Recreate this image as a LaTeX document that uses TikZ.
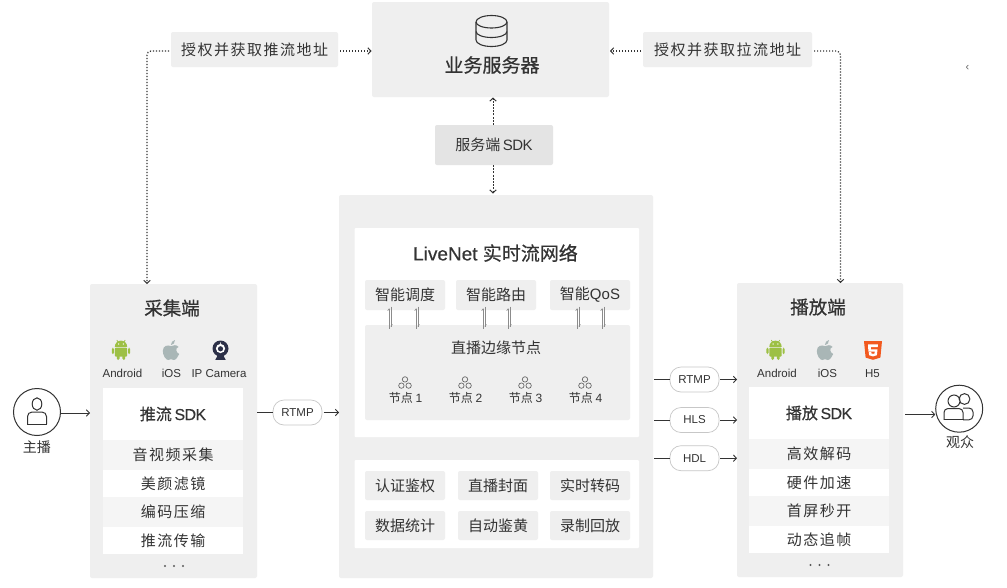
\documentclass[tikz,border=0pt]{standalone}
\usepackage{fontspec}
\usetikzlibrary{arrows.meta,calc}
\setmainfont{Liberation Sans}
\newfontfamily\cjk{Noto Sans CJK SC}
\newfontfamily\cjks[LetterSpace=10]{Noto Sans CJK SC}
\newfontfamily\cjkm[FakeBold=0.5]{Noto Sans CJK SC}
\newfontfamily\latm[FakeBold=0.5]{Liberation Sans}
\newfontfamily\latn[LetterSpace=-4]{Liberation Sans}
\newfontfamily\latb[FakeBold=0.3,LetterSpace=-4]{Liberation Sans}
\newcommand\fsz[1]{\fontsize{#1}{#1}\selectfont}
\definecolor{panel}{HTML}{EFEFEF}
\definecolor{rowg}{HTML}{F5F5F5}
\definecolor{sdkg}{HTML}{E4E4E4}
\definecolor{ink}{HTML}{333333}
\definecolor{droid}{HTML}{9DC044}
\definecolor{applec}{HTML}{A9B6B6}
\definecolor{camc}{HTML}{2C3048}
\definecolor{hfive}{HTML}{F2591F}
\tikzset{
  base/.style={inner sep=0pt,outer sep=0pt,text=ink,align=center},
  tile/.style={base,fill=panel,rounded corners=2pt},
  whitebox/.style={base,fill=white,rounded corners=1pt},
  sq/.style={base,minimum width=140pt},
  pill/.style={base,draw=black!22,line width=.7pt,fill=white,rounded corners=11pt,minimum width=49pt,minimum height=25pt,font=\fsz{11.5}},
  lab/.style={base,font=\fsz{11.5}},
  arr/.style={draw=ink,line width=1pt,-{Straight Barb[length=3pt,width=6.5pt,line width=.9pt]}},
  plain/.style={draw=ink,line width=1pt},
  dotline/.style={draw=ink,line width=1.2pt,dash pattern=on 1.2pt off 1.8pt,rounded corners=4pt,-{Straight Barb[length=3pt,width=6.5pt,line width=1pt]}},
  dashline/.style={draw=ink,line width=1pt,dash pattern=on 2pt off 1.2pt,-{Straight Barb[length=3pt,width=6.5pt,line width=1pt]}},
  harp/.style={draw=black!45,line width=.6pt},
  ico/.style={draw=ink,line width=1pt,fill=none},
}
\newcommand\droidicon[2]{\begin{scope}[shift={(#1,#2)}]
  \fill[droid] (-6.2,-3.2) arc[start angle=180,end angle=360,radius=6.2] -- cycle;
  \draw[droid,line width=.7pt] (-3,-8) -- (-4.2,-10) (3,-8) -- (4.2,-10);
  \fill[white] (-2.4,-6) circle (.7) (2.4,-6) circle (.7);
  \fill[droid,rounded corners=1pt] (-6.2,-2.4) rectangle (6.2,6.6);
  \fill[droid,rounded corners=1.4pt] (-9.2,-2.4) rectangle (-7,4.2) (7,-2.4) rectangle (9.2,4.2) (-4.2,5) rectangle (-1.4,10) (1.4,5) rectangle (4.2,10);
\end{scope}}
\newcommand\appleicon[2]{\begin{scope}[shift={(#1,#2)}]
  \fill[applec] (0,-3.8) .. controls (-3,-5.4) and (-8.2,-4.6) .. (-8.2,1) .. controls (-8.2,5.5) and (-5,10) .. (-2.8,10) .. controls (-1.4,10) and (-1,9.2) .. (0,9.2) .. controls (1,9.2) and (1.4,10) .. (2.8,10) .. controls (5,10) and (7,6.6) .. (8.2,4) .. controls (4.6,2.6) and (4.2,-2.4) .. (7.6,-3) .. controls (5.4,-5.6) and (2.4,-5) .. (0,-3.8) -- cycle;
  \fill[applec] (-.2,-4.8) .. controls (-.4,-7.6) and (2,-9.6) .. (4,-10) .. controls (4.2,-7.4) and (2.4,-5.2) .. (-.2,-4.8) -- cycle;
\end{scope}}
\newcommand\camicon[2]{\begin{scope}[shift={(#1,#2)}]
  \fill[camc] (0,-1.5) circle (8);
  \fill[white] (0,-1.5) circle (4.6);
  \fill[camc] (0,-1.2) circle (2.6);
  \fill[white] (0,-6.9) circle (.7);
  \fill[camc] (-2.6,5) -- (2.6,5) -- (5.2,9.8) -- (-5.2,9.8) -- cycle;
\end{scope}}
\newcommand\hfiveicon[2]{\begin{scope}[shift={(#1,#2)}]
  \fill[hfive] (-9,-9) -- (9,-9) -- (7.4,7.6) -- (0,9.8) -- (-7.4,7.6) -- cycle;
  \fill[white] (-5,-5.6) -- (5,-5.6) -- (4.7,-3) -- (-2.2,-3) -- (-2,-.6) -- (4.5,-.6) -- (3.9,5.2) -- (0,6.4) -- (-3.9,5.2) -- (-4.2,2.2) -- (-1.7,2.2) -- (-1.6,3.4) -- (0,3.9) -- (1.6,3.4) -- (1.8,1.7) -- (-4.6,1.7) -- cycle;
\end{scope}}
\newcommand\meshicon[2]{\begin{scope}[shift={(#1,#2)}]
  \draw[black!60,line width=.7pt] (0,-3.6) circle (2.7) (-3.6,2.6) circle (2.7) (3.6,2.6) circle (2.7);
\end{scope}}
\newcommand\dotsrow[2]{\fill[black!65] (#1-9,#2) circle (1.2) (#1,#2) circle (1.2) (#1+9,#2) circle (1.2);}
\begin{document}
\begin{tikzpicture}[x=1pt,y=-1pt]
\useasboundingbox (0,0) rectangle (1007,587);
\fill[white] (0,0) rectangle (1007,587);
%% top
\node[tile,minimum width=237pt,minimum height=95pt,anchor=north west] (server) at (372,2) {};
\node[base,font=\fsz{19}\cjkm] (servertxt) at (492,65) {业务服务器};
\draw[ico,line width=1.1pt] (476,22) arc[start angle=180,end angle=360,x radius=15.5,y radius=6.5] -- (507,40) arc[start angle=0,end angle=180,x radius=15.5,y radius=6.5] -- cycle;
\draw[ico,line width=1.1pt] (476,22) arc[start angle=180,end angle=0,x radius=15.5,y radius=6];
\draw[ico,line width=1.1pt] (476,31.5) arc[start angle=180,end angle=0,x radius=15.5,y radius=6];
\node[tile,minimum width=167pt,minimum height=35pt,font=\fsz{15}\cjks] (authl) at (254.5,49.5) {授权并获取推流地址};
\node[tile,minimum width=169pt,minimum height=35pt,font=\fsz{15}\cjks] (authr) at (727.5,49.5) {授权并获取拉流地址};
\node[tile,fill=sdkg,minimum width=118pt,minimum height=40pt] (ssdk) at (494,145) {\fsz{15}\cjk 服务端\,\latn SDK};
\node[base,text=black!60,font=\fsz{11}] (stray) at (967.5,67.5) {‹};
%% capture panel
\node[tile,minimum width=167pt,minimum height=294pt,anchor=north west] (cap) at (90,284) {};
\node[base,font=\fsz{18.5}\cjkm] (captitle) at (172,308) {采集端};
\droidicon{121}{350}\appleicon{171}{350}\camicon{220.5}{350}
\node[lab] (l1) at (122.5,373.5) {Android};
\node[lab] (l2) at (171.5,373.5) {iOS};
\node[lab] (l3) at (219,373.5) {IP Camera};
\node[sq,fill=white,minimum height=52pt,anchor=north west] (capsdk) at (103,388) {\fsz{16}\cjkm 推流\,\latb SDK};
\node[sq,fill=rowg,minimum height=30pt,anchor=north west,font=\fsz{15}\cjks] (c1) at (103,440) {音视频采集};
\node[sq,fill=white,minimum height=27pt,anchor=north west,font=\fsz{15}\cjks] (c2) at (103,470) {美颜滤镜};
\node[sq,fill=rowg,minimum height=30pt,anchor=north west,font=\fsz{15}\cjks] (c3) at (103,497) {编码压缩};
\node[sq,fill=white,minimum height=27pt,anchor=north west,font=\fsz{15}\cjks] (c4) at (103,527) {推流传输};
\dotsrow{174}{566}
%% host
\node[base,draw=ink,line width=1pt,circle,minimum size=47pt] (host) at (37,412) {};
\draw[ico] (37,404) ellipse (4.8 and 6.2);
\draw[ico,rounded corners=4.5pt] (27.5,424) -- (27.5,412) -- (46.5,412) -- (46.5,424);
\draw[ico] (27,424) -- (47,424);
\node[base,font=\fsz{14}\cjk] (hostl) at (37,447) {主播};
\node[pill] (prtmp) at (297.5,412.5) {RTMP};
\coordinate (h0) at (0,413);
\draw[arr] (host.east |- h0) -- (cap.west |- h0);
%% center panel
\node[tile,minimum width=314pt,minimum height=383pt,anchor=north west] (net) at (339,195) {};
\node[whitebox,minimum width=284.5pt,minimum height=209pt,anchor=north west] (netup) at (354.5,228) {};
\node[base] (nettitle) at (495.5,253) {\fsz{19}\latm LiveNet {\cjkm 实时流网络}};
\node[tile,minimum width=80pt,minimum height=30pt,font=\fsz{15}\cjk] (s1) at (405,295) {智能调度};
\node[tile,minimum width=80pt,minimum height=30pt,font=\fsz{15}\cjk] (s2) at (496,295) {智能路由};
\node[tile,minimum width=80pt,minimum height=30pt] (s3) at (590,295) {\fsz{15}\cjk 智能\rmfamily QoS};
\node[tile,minimum width=265pt,minimum height=95pt,anchor=north west] (edge) at (365,325) {};
\node[base,font=\fsz{15}\cjk] (edget) at (496,348) {直播边缘节点};
\meshicon{405}{383}\meshicon{465}{383}\meshicon{525}{383}\meshicon{585}{383}
\node[base] (n1) at (405.5,398) {\fsz{12}\cjk 节点 \rmfamily 1};
\node[base] (n2) at (465.5,398) {\fsz{12}\cjk 节点 \rmfamily 2};
\node[base] (n3) at (525.5,398) {\fsz{12}\cjk 节点 \rmfamily 3};
\node[base] (n4) at (585.5,398) {\fsz{12}\cjk 节点 \rmfamily 4};
\coordinate (ha) at (390,318);\coordinate (hb) at (417,318);
\coordinate (hc) at (484,318);\coordinate (hd) at (509,318);
\coordinate (he) at (578,318);\coordinate (hf) at (603,318);
\foreach \c/\t in {ha/s1,hb/s1,hc/s2,hd/s2,he/s3,hf/s3}{
  \draw[harp] ([xshift=-.7pt,yshift=1.5pt]\t.south -| \c) -- ([xshift=-.7pt,yshift=-3.5pt]edge.north -| \c);
  \draw[harp] ([xshift=-.7pt,yshift=1.5pt]\t.south -| \c) -- ++(-1.6,2.2);
  \draw[harp] ([xshift=.8pt,yshift=3.5pt]\t.south -| \c) -- ([xshift=.8pt,yshift=-1.5pt]edge.north -| \c);
  \draw[harp] ([xshift=.8pt,yshift=-1.5pt]edge.north -| \c) -- ++(1.6,-2.2);
}
\node[whitebox,minimum width=284.5pt,minimum height=88pt,anchor=north west] (netlow) at (354.5,460) {};
\node[tile,minimum width=80pt,minimum height=29pt,font=\fsz{15}\cjk] (f1) at (405,485.5) {认证鉴权};
\node[tile,minimum width=80pt,minimum height=29pt,font=\fsz{15}\cjk] (f2) at (498,485.5) {直播封面};
\node[tile,minimum width=80pt,minimum height=29pt,font=\fsz{15}\cjk] (f3) at (590,485.5) {实时转码};
\node[tile,minimum width=80pt,minimum height=29pt,font=\fsz{15}\cjk] (f4) at (405,525.5) {数据统计};
\node[tile,minimum width=80pt,minimum height=29pt,font=\fsz{15}\cjk] (f5) at (498,525.5) {自动鉴黄};
\node[tile,minimum width=80pt,minimum height=29pt,font=\fsz{15}\cjk] (f6) at (590,525.5) {录制回放};
%% play panel
\node[tile,minimum width=166pt,minimum height=294pt,anchor=north west] (play) at (737,283) {};
\node[base,font=\fsz{18.5}\cjkm] (playtitle) at (818,307) {播放端};
\droidicon{775.5}{350}\appleicon{825}{350}\hfiveicon{873}{350}
\node[lab] (r1) at (777,373.5) {Android};
\node[lab] (r2) at (827.5,373.5) {iOS};
\node[lab] (r3) at (872.5,373.5) {H5};
\node[sq,fill=white,minimum height=52pt,anchor=north west] (playsdk) at (749,387) {\fsz{16}\cjkm 播放\,\latb SDK};
\node[sq,fill=rowg,minimum height=30pt,anchor=north west,font=\fsz{15}\cjks] (p1) at (749,439) {高效解码};
\node[sq,fill=white,minimum height=27pt,anchor=north west,font=\fsz{15}\cjks] (p2) at (749,469) {硬件加速};
\node[sq,fill=rowg,minimum height=30pt,anchor=north west,font=\fsz{15}\cjks] (p3) at (749,496) {首屏秒开};
\node[sq,fill=white,minimum height=27pt,anchor=north west,font=\fsz{15}\cjks] (p4) at (749,526) {动态追帧};
\dotsrow{819.5}{565}
%% viewer
\node[base,draw=ink,line width=1pt,circle,minimum size=47pt] (view) at (959.2,408.7) {};
\draw[ico] (964.5,399) circle (5.4) (954,401) circle (6);
\draw[ico,rounded corners=4pt] (963,408) -- (973,408) -- (973,419.8) -- (963,419.8);
\draw[ico,rounded corners=4pt] (944,419.8) -- (944,408.5) -- (963,408.5) -- (963,419.8);
\draw[ico] (943.5,419.8) -- (963.5,419.8);
\node[base,font=\fsz{14}\cjk] (viewl) at (960,442.5) {观众};
\node[pill] (qrtmp) at (694.5,379.5) {RTMP};
\node[pill] (qhls) at (694.5,420) {HLS};
\node[pill] (qhdl) at (694.5,458.2) {HDL};
\coordinate (h1) at (0,414.5);
\draw[arr] (play.east |- h1) ++(2,0) -- ([xshift=-.5pt]view.west |- h1);
%% connectors
\draw[plain] (cap.east |- prtmp) -- (prtmp.west);
\draw[arr] ([xshift=1.5pt]prtmp.east) -- (net.west |- prtmp);
\foreach \q in {qrtmp,qhls,qhdl}{
  \draw[plain] ([xshift=1pt]net.east |- \q) -- (\q.west);
  \draw[arr] ([xshift=1pt]\q.east) -- (play.west |- \q);
}
\draw[dashline] (ssdk.north -| 493,0) -- ([yshift=-.5pt]server.south -| 493,0);
\draw[dashline] (ssdk.south -| 493,0) -- ([yshift=1.5pt]net.north -| 493,0);
\draw[dotline] ([xshift=2pt]authl.east |- 0,51) -- ([xshift=-.5pt]server.west |- 0,51);
\draw[dotline] ([xshift=-2pt]authr.west |- 0,51) -- ([xshift=1pt]server.east |- 0,51);
\coordinate (cl) at (147,51);
\coordinate (cr) at (840.5,51);
\draw[dotline] ([xshift=-2pt]authl.west |- cl) -- (cl) -- (cl |- cap.north);
\draw[dotline] ([xshift=2pt]authr.east |- cr) -- (cr) -- (cr |- play.north);
\end{tikzpicture}
\end{document}
